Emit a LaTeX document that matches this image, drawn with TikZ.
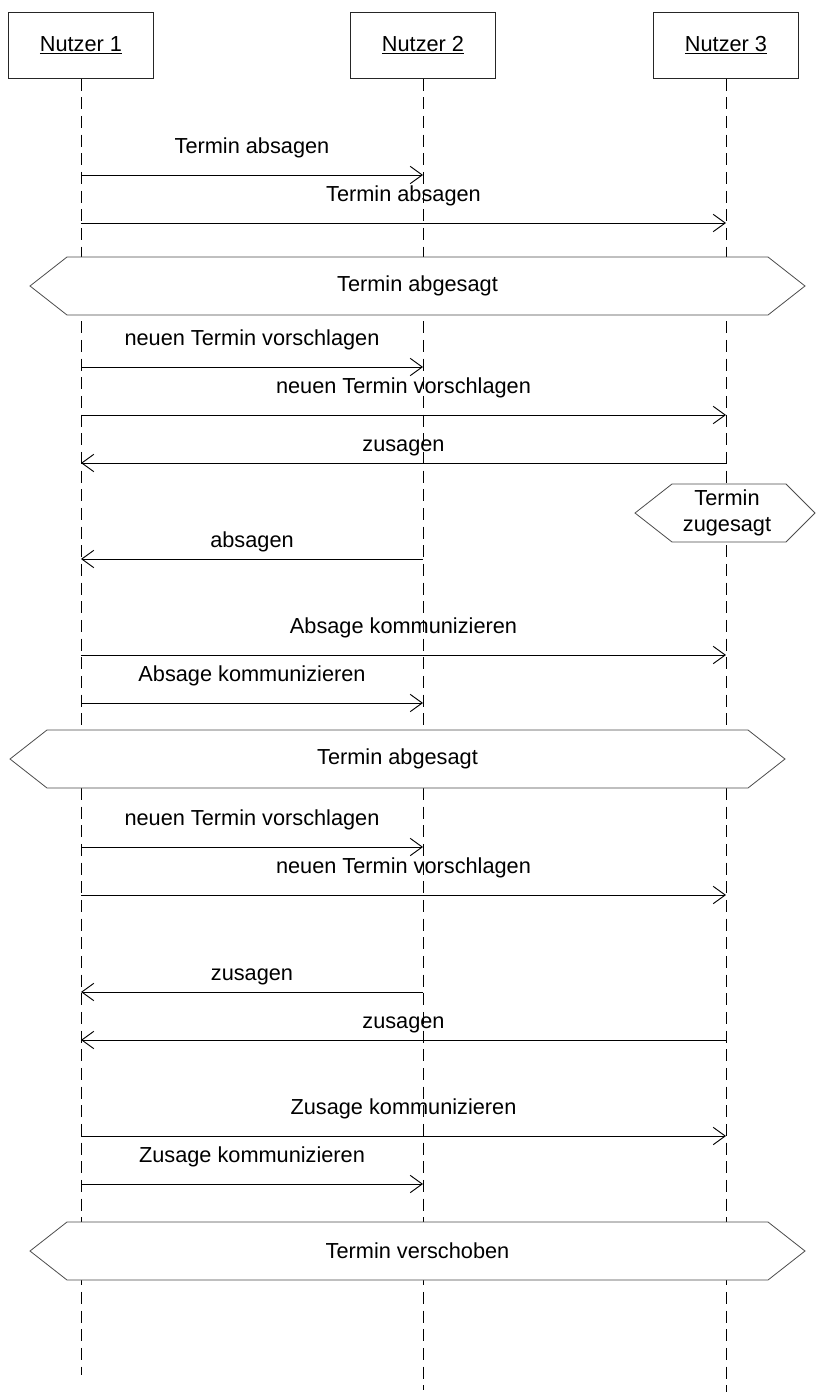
\documentclass[tikz,border=0pt]{standalone}
\usepackage{fontspec}
\setmainfont{Liberation Sans}
\usetikzlibrary{arrows.meta,calc,positioning}
\tikzset{>={Straight Barb[length=9pt,width=13pt]}}
\tikzset{
  actor/.style={draw=black!85, fill=white, line width=0.75pt, minimum width=109pt, minimum height=49.5pt, inner sep=0pt},
  life/.style={black, line width=0.6pt, dash pattern=on 9pt off 5pt},
  msg/.style={->, black, line width=0.7pt},
  state/.style={draw=black!70, fill=white, line width=0.6pt},
  lbl/.style={inner sep=0pt, anchor=base}
}
\begin{document}
\begin{tikzpicture}[x=0.75pt,y=-0.75pt,font=\fontsize{16.3}{19}\selectfont]
\useasboundingbox (0,0) rectangle (816,1392);

% Teilnehmer mit Lebenslinien
\node[actor] (n1) at (81,45) {\underline{Nutzer 1}};
\node[actor] (n2) at (423,45) {\underline{Nutzer 2}};
\node[actor] (n3) at (726,45) {\underline{Nutzer 3}};
\draw[life] (n1.south) -- (n1 |- 0,1375);
\draw[life] (n2.south) -- (n2 |- 0,1390);
\draw[life] (n3.south) -- (n3 |- 0,1392);

% Nachrichten
\foreach \a/\b/\y/\d/\t [count=\i] in {
    n1/n2/175/16.5pt/Termin absagen,
    n1/n3/223/16.5pt/Termin absagen,
    n1/n2/367/16.5pt/neuen Termin vorschlagen,
    n1/n3/415/16.5pt/neuen Termin vorschlagen,
    n3/n1/463/9pt/zusagen,
    n2/n1/559/9pt/absagen,
    n1/n3/655/16.5pt/Absage kommunizieren,
    n1/n2/703/16.5pt/Absage kommunizieren,
    n1/n2/847/16.5pt/neuen Termin vorschlagen,
    n1/n3/895/16.5pt/neuen Termin vorschlagen,
    n2/n1/992/9pt/zusagen,
    n3/n1/1040/9pt/zusagen,
    n1/n3/1136/16.5pt/Zusage kommunizieren,
    n1/n2/1184/16.5pt/Zusage kommunizieren}
{
  \draw[msg] (\a |- 0,\y) -- (\b |- 0,\y) node[lbl, midway, yshift=\d] (m\i) {\t};
}

% Zustaende
\foreach \l/\r/\y/\t [count=\i] in {
    30/805/286/Termin abgesagt,
    10/785/759/Termin abgesagt,
    30/805/1251/Termin verschoben}
{
  \draw[state] (\l,\y) -- (\l+37,\y-29) -- (\r-37,\y-29) -- (\r,\y)
               -- (\r-37,\y+29) -- (\l+37,\y+29) -- cycle;
  \node (s\i) at ({(\l+\r)/2},\y) {\t};
}
\draw[state] (635,513) -- (672,484) -- (786,484) -- (815,513)
             -- (786,542) -- (672,542) -- cycle;
\node[align=center, inner sep=0pt] (z) at (727,513) {Termin\\zugesagt};

\end{tikzpicture}
\end{document}
